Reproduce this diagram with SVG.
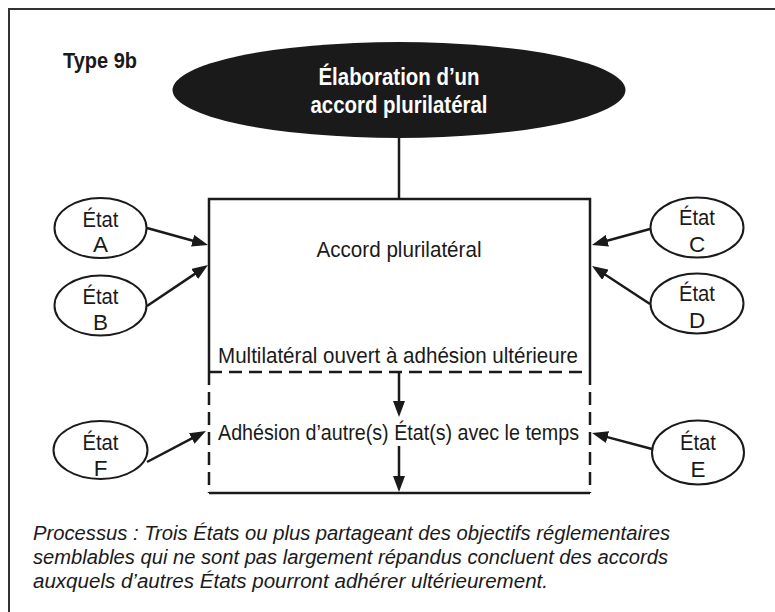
<svg xmlns="http://www.w3.org/2000/svg" width="775" height="612" viewBox="0 0 775 612">
  <style>
    .txt { font-family: "Liberation Sans", Arial, sans-serif; fill: #1a1a1a; }
    .bold { font-weight: bold; }
    .state-shape { fill: #ffffff; stroke: #1a1a1a; stroke-width: 2; }
    .conn { stroke: #1a1a1a; stroke-width: 2.5; fill: none; }
    .edge { stroke: #1a1a1a; stroke-width: 2.5; fill: none; }
    .dash { stroke: #1a1a1a; stroke-width: 2.5; fill: none; stroke-dasharray: 13 7; }
  </style>
  <defs>
    <marker id="arrow" viewBox="0 0 16 12" refX="6" refY="6" markerWidth="16" markerHeight="12" markerUnits="userSpaceOnUse" orient="auto">
      <path d="M0,0 L16,6 L0,12 z" fill="#1a1a1a"/>
    </marker>
  </defs>

  <rect x="0" y="0" width="775" height="612" fill="#ffffff"/>

  <!-- frame (open on the right and bottom) -->
  <rect x="9" y="9" width="790" height="640" fill="none" stroke="#333333" stroke-width="2"/>

  <text class="txt bold" x="63" y="68" font-size="22" textLength="74" lengthAdjust="spacingAndGlyphs">Type 9b</text>

  <!-- title ellipse -->
  <g id="title">
    <ellipse cx="399" cy="90" rx="226.5" ry="48" fill="#1a1a1a"/>
    <text x="399" y="85" font-family="Liberation Sans, Arial, sans-serif" font-weight="bold" font-size="23.5" fill="#ffffff" text-anchor="middle" textLength="161" lengthAdjust="spacingAndGlyphs">Élaboration d’un</text>
    <text x="399" y="113" font-family="Liberation Sans, Arial, sans-serif" font-weight="bold" font-size="23.5" fill="#ffffff" text-anchor="middle" textLength="177" lengthAdjust="spacingAndGlyphs">accord plurilatéral</text>
  </g>

  <!-- agreement box: solid upper part, dashed accession part -->
  <g id="agreement">
    <path class="edge" d="M209,372 L209,199 L590,199 L590,372"/>
    <path class="dash" d="M209,372 L590,372"/>
    <path class="dash" d="M209,372 L209,493"/>
    <path class="dash" d="M590,372 L590,493"/>
    <path class="edge" d="M209,493 L590,493"/>
    <text class="txt" x="399" y="257" font-size="22.5" text-anchor="middle" textLength="165" lengthAdjust="spacingAndGlyphs">Accord plurilatéral</text>
    <text class="txt" x="398" y="363" font-size="22.5" text-anchor="middle" textLength="360" lengthAdjust="spacingAndGlyphs">Multilatéral ouvert à adhésion ultérieure</text>
    <text class="txt" x="398.5" y="440" font-size="22.5" text-anchor="middle" textLength="361" lengthAdjust="spacingAndGlyphs">Adhésion d’autre(s) État(s) avec le temps</text>
  </g>

  <!-- states -->
  <g id="state-a">
    <ellipse class="state-shape" cx="100.5" cy="228" rx="46" ry="30"/>
    <text class="txt" x="100.5" y="227" font-size="22.5" text-anchor="middle" textLength="36" lengthAdjust="spacingAndGlyphs">État</text>
    <text class="txt" x="100.5" y="252" font-size="22.5" text-anchor="middle">A</text>
  </g>
  <g id="state-b">
    <ellipse class="state-shape" cx="100.5" cy="305.5" rx="46" ry="30"/>
    <text class="txt" x="100.5" y="304" font-size="22.5" text-anchor="middle" textLength="36" lengthAdjust="spacingAndGlyphs">État</text>
    <text class="txt" x="100.5" y="330" font-size="22.5" text-anchor="middle">B</text>
  </g>
  <g id="state-c">
    <ellipse class="state-shape" cx="697" cy="227.5" rx="46.5" ry="30"/>
    <text class="txt" x="697" y="225" font-size="22.5" text-anchor="middle" textLength="36" lengthAdjust="spacingAndGlyphs">État</text>
    <text class="txt" x="697" y="252" font-size="22.5" text-anchor="middle">C</text>
  </g>
  <g id="state-d">
    <ellipse class="state-shape" cx="697" cy="303.5" rx="46.5" ry="30"/>
    <text class="txt" x="697" y="301" font-size="22.5" text-anchor="middle" textLength="36" lengthAdjust="spacingAndGlyphs">État</text>
    <text class="txt" x="697" y="328" font-size="22.5" text-anchor="middle">D</text>
  </g>
  <g id="state-e">
    <ellipse class="state-shape" cx="698" cy="452.5" rx="46" ry="32"/>
    <text class="txt" x="698" y="450" font-size="22.5" text-anchor="middle" textLength="36" lengthAdjust="spacingAndGlyphs">État</text>
    <text class="txt" x="698" y="477" font-size="22.5" text-anchor="middle">E</text>
  </g>
  <g id="state-f">
    <ellipse class="state-shape" cx="100.5" cy="450" rx="47" ry="29"/>
    <text class="txt" x="100.5" y="450" font-size="22.5" text-anchor="middle" textLength="36" lengthAdjust="spacingAndGlyphs">État</text>
    <text class="txt" x="100.5" y="476" font-size="22.5" text-anchor="middle">F</text>
  </g>

  <!-- connectors -->
  <g id="connectors">
    <line class="conn" x1="399" y1="138" x2="399" y2="199"/>
    <line class="conn" x1="147" y1="228" x2="198.4" y2="242.3" marker-end="url(#arrow)"/>
    <line class="conn" x1="147" y1="306" x2="199.7" y2="270.6" marker-end="url(#arrow)"/>
    <line class="conn" x1="650" y1="229" x2="601.6" y2="242.3" marker-end="url(#arrow)"/>
    <line class="conn" x1="650" y1="304" x2="600.4" y2="271.5" marker-end="url(#arrow)"/>
    <line class="conn" x1="147" y1="462" x2="197.1" y2="435.7" marker-end="url(#arrow)"/>
    <line class="conn" x1="652" y1="449" x2="601.7" y2="435.6" marker-end="url(#arrow)"/>
    <line class="conn" x1="399" y1="372" x2="399" y2="407" marker-end="url(#arrow)"/>
    <line class="conn" x1="399" y1="446" x2="399" y2="482" marker-end="url(#arrow)"/>
  </g>

  <!-- caption -->
  <g id="caption" font-style="italic">
    <text class="txt" x="33" y="540" font-size="20" textLength="637" lengthAdjust="spacingAndGlyphs">Processus : Trois États ou plus partageant des objectifs réglementaires</text>
    <text class="txt" x="33" y="564" font-size="20" textLength="635" lengthAdjust="spacingAndGlyphs">semblables qui ne sont pas largement répandus concluent des accords</text>
    <text class="txt" x="33" y="588" font-size="20" textLength="515" lengthAdjust="spacingAndGlyphs">auxquels d’autres États pourront adhérer ultérieurement.</text>
  </g>
</svg>
